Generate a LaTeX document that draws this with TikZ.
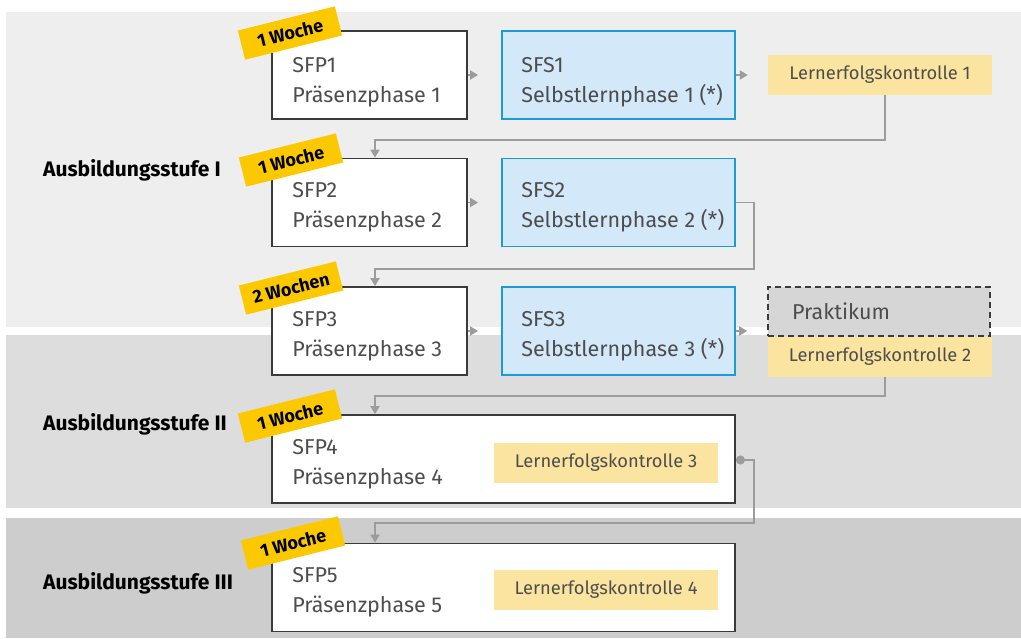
\documentclass[tikz,border=0pt]{standalone}
\usepackage{fontspec}
\setmainfont{Fira Sans}
\usetikzlibrary{arrows.meta,calc}
\definecolor{bandA}{HTML}{EEEEEE}
\definecolor{bandB}{HTML}{DDDDDD}
\definecolor{bandC}{HTML}{CDCDCD}
\definecolor{boxline}{HTML}{3A3A3A}
\definecolor{txtgrey}{HTML}{4D4D4D}
\definecolor{sfsfill}{HTML}{D3E8F8}
\definecolor{sfsline}{HTML}{1B9BD7}
\definecolor{lkfill}{HTML}{FAE4A0}
\definecolor{tagfill}{HTML}{FCC900}
\definecolor{prakfill}{HTML}{D6D6D6}
\definecolor{conngrey}{HTML}{9C9C9C}
\tikzset{
  phasebox/.style={draw=boxline, line width=1.8pt, fill=white, inner sep=0pt,
    minimum height=88pt},
  sfsbox/.style={phasebox, draw=sfsline, fill=sfsfill},
  boxtext/.style={anchor=west, inner sep=0pt, align=left, text=txtgrey,
    font=\fontsize{21.5}{30}\selectfont},
  lkbox/.style={fill=lkfill, minimum width=224pt, minimum height=40pt, inner sep=0pt,
    text=txtgrey, font=\fontsize{18.3}{20}\selectfont},
  prakbox/.style={draw=boxline, dashed, dash pattern=on 6pt off 4pt, line width=1.6pt, fill=prakfill,
    minimum width=222pt, minimum height=49pt, inner xsep=24pt, text width=174pt, align=left,
    text=txtgrey, font=\fontsize{21.5}{24}\selectfont},
  tagbox/.style={fill=tagfill, rotate=14, minimum width=100pt, minimum height=30pt, inner sep=0pt,
    font=\fontsize{18}{20}\bfseries\selectfont, text=black},
  stufe/.style={anchor=west, font=\fontsize{21}{22}\bfseries\selectfont, text=black, inner sep=0pt},
  conn/.style={draw=conngrey, line width=1.8pt, -{Triangle[length=8pt,width=9pt]}},
}
\begin{document}
\begin{tikzpicture}[x=1pt,y=-1pt]
\useasboundingbox (0,0) rectangle (1021,638);
\fill[white] (0,0) rectangle (1021,638);
% bands
\fill[bandA] (6,12) rectangle (1021,327);
\fill[bandB] (6,335) rectangle (1021,508);
\fill[bandC] (6,518) rectangle (1021,638);
% stage labels
\node[stufe] (st1) at (43,170) {Ausbildungsstufe I};
\node[stufe] (st2) at (43,424) {Ausbildungsstufe II};
\node[stufe] (st3) at (43,583) {Ausbildungsstufe III};
% row 1
\node[phasebox, minimum width=195pt] (sfp1) at (369.5,75) {};
\node[boxtext] (sfp1t) at ([xshift=21pt,yshift=-7pt]sfp1.west) {SFP1\\Präsenzphase 1};
\node[sfsbox, minimum width=233pt] (sfs1) at (618.5,75) {};
\node[boxtext] (sfs1t) at ([xshift=20pt,yshift=-7pt]sfs1.west) {SFS1\\Selbstlernphase 1 (*)};
\node[lkbox] (lk1) at (880,75) {Lernerfolgskontrolle 1};
% row 2
\node[phasebox, minimum width=195pt] (sfp2) at (369.5,202.5) {};
\node[boxtext] (sfp2t) at ([xshift=21pt,yshift=-5pt]sfp2.west) {SFP2\\Präsenzphase 2};
\node[sfsbox, minimum width=233pt] (sfs2) at (618.5,202.5) {};
\node[boxtext] (sfs2t) at ([xshift=20pt,yshift=-5pt]sfs2.west) {SFS2\\Selbstlernphase 2 (*)};
% row 3
\node[phasebox, minimum width=195pt] (sfp3) at (369.5,331) {};
\node[boxtext] (sfp3t) at ([xshift=21pt,yshift=-5pt]sfp3.west) {SFP3\\Präsenzphase 3};
\node[sfsbox, minimum width=233pt] (sfs3) at (618.5,331) {};
\node[boxtext] (sfs3t) at ([xshift=20pt,yshift=-5pt]sfs3.west) {SFS3\\Selbstlernphase 3 (*)};
\node[prakbox] (prak) at (879,311.5) {Praktikum};
\node[lkbox] (lk2) at (880,357) {Lernerfolgskontrolle 2};
% row 4
\node[phasebox, minimum width=463pt] (sfp4) at (503.5,459) {};
\node[boxtext] (sfp4t) at ([xshift=21pt,yshift=-5pt]sfp4.west) {SFP4\\Präsenzphase 4};
\node[lkbox] (lk3) at (606,463) {Lernerfolgskontrolle 3};
% row 5
\node[phasebox, minimum width=463pt] (sfp5) at (503.5,587.5) {};
\node[boxtext] (sfp5t) at ([xshift=21pt,yshift=-5pt]sfp5.west) {SFP5\\Präsenzphase 5};
\node[lkbox] (lk4) at (606,590) {Lernerfolgskontrolle 4};
% connectors
\draw[conn] (sfp1.east) -- ([xshift=-23pt]sfs1.west);
\draw[conn] (sfs1.east) -- ($(lk1.west)+(-20,0)$);
\draw[conn] ([xshift=5pt]lk1.south) |- ([xshift=5.5pt,yshift=18pt]sfp2.north) -- ([xshift=5.5pt]sfp2.north);
\draw[conn] (sfp2.east) -- ([xshift=-23pt]sfs2.west);
\draw[conn] (sfs2.east) -- ++(18,0) |- ([xshift=5.5pt,yshift=17pt]sfp3.north) -- ([xshift=5.5pt]sfp3.north);
\draw[conn] (sfp3.east) -- ([xshift=-23pt]sfs3.west);
\draw[conn] (sfs3.east) -- ($(sfs3.east -| prak.west)+(-20,0)$);
\draw[conn] ([xshift=5pt]lk2.south) |- ([xshift=5.5pt,yshift=18pt]sfp4.north -| sfp3.north) -- ([xshift=5.5pt]sfp4.north -| sfp3.north);
\draw[conn, {Circle[length=9pt]}-{Triangle[length=8pt,width=9pt]}] ([yshift=-1pt]sfp4.east) -- ++(18,0) |- ([xshift=5.5pt,yshift=20pt]sfp5.north -| sfp3.north) -- ([xshift=5.5pt]sfp5.north -| sfp3.north);
% tags
\node[tagbox] (tag1) at (290,33) {1 Woche};
\node[tagbox] (tag2) at (291,160) {1 Woche};
\node[tagbox] (tag3) at (291,288) {2 Wochen};
\node[tagbox] (tag4) at (290,416) {1 Woche};
\node[tagbox] (tag5) at (293,543) {1 Woche};
\end{tikzpicture}
\end{document}
